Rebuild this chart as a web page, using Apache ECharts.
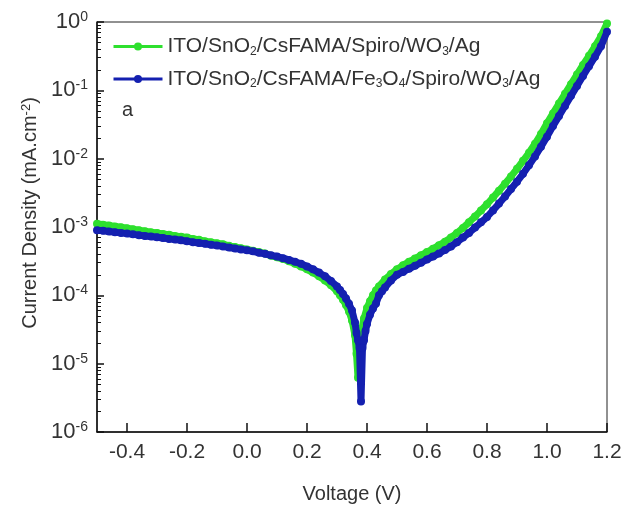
<!DOCTYPE html>
<html><head><meta charset="utf-8">
<script src="https://cdn.jsdelivr.net/npm/echarts@6/dist/echarts.min.js"></script>
<style>html,body{margin:0;padding:0;background:#fff}#c{width:626px;height:514px}</style>
</head><body><div id="c"></div>
<script>
const seriesNames = ['ITO/SnO2/CsFAMA/Spiro/WO3/Ag', 'ITO/SnO2/CsFAMA/Fe3O4/Spiro/WO3/Ag'];
const xTicks = [-0.4, -0.2, 0.0, 0.2, 0.4, 0.6, 0.8, 1.0, 1.2];
const yTicks = [1e-6, 1e-5, 1e-4, 1e-3, 1e-2, 1e-1, 1];

const voltageGreen = [-0.50,-0.48,-0.46,-0.44,-0.42,-0.40,-0.38,-0.36,-0.34,-0.32,-0.30,-0.28,-0.26,-0.24,-0.22,-0.20,-0.18,-0.16,-0.14,-0.12,-0.10,-0.08,-0.06,-0.04,-0.02,0.00,0.02,0.04,0.06,0.08,0.10,0.12,0.14,0.16,0.18,0.20,0.22,0.24,0.26,0.28,0.30,0.31,0.32,0.33,0.34,0.35,0.36,0.365,0.37,0.375,0.38,0.39,0.40,0.41,0.42,0.43,0.44,0.46,0.48,0.50,0.52,0.54,0.56,0.58,0.60,0.62,0.64,0.66,0.68,0.70,0.72,0.74,0.76,0.78,0.80,0.82,0.84,0.86,0.88,0.90,0.92,0.94,0.96,0.98,1.00,1.02,1.04,1.06,1.08,1.10,1.12,1.14,1.16,1.18,1.20];
const currentGreen = [1.12e-3,1.08e-3,1.05e-3,1.02e-3,9.9e-4,9.6e-4,9.3e-4,9.0e-4,8.7e-4,8.4e-4,8.2e-4,7.9e-4,7.7e-4,7.4e-4,7.2e-4,7.0e-4,6.7e-4,6.5e-4,6.2e-4,6.0e-4,5.8e-4,5.6e-4,5.3e-4,5.1e-4,4.9e-4,4.7e-4,4.5e-4,4.3e-4,4.1e-4,3.8e-4,3.6e-4,3.4e-4,3.15e-4,2.9e-4,2.65e-4,2.4e-4,2.15e-4,1.9e-4,1.65e-4,1.4e-4,1.15e-4,1.0e-4,8.6e-5,7.2e-5,5.8e-5,4.3e-5,2.6e-5,1.4e-5,6.2e-6,1.6e-5,2.8e-5,4.6e-5,6.5e-5,8.2e-5,1.0e-4,1.18e-4,1.35e-4,1.7e-4,2.05e-4,2.4e-4,2.75e-4,3.1e-4,3.45e-4,3.85e-4,4.3e-4,4.8e-4,5.4e-4,6.1e-4,7.0e-4,8.2e-4,9.7e-4,1.17e-3,1.42e-3,1.75e-3,2.15e-3,2.7e-3,3.4e-3,4.3e-3,5.5e-3,7.1e-3,9.3e-3,1.22e-2,1.65e-2,2.3e-2,3.3e-2,4.6e-2,6.4e-2,8.9e-2,1.23e-1,1.7e-1,2.35e-1,3.2e-1,4.4e-1,6.2e-1,9.5e-1];

const voltageBlue = [-0.50,-0.48,-0.46,-0.44,-0.42,-0.40,-0.38,-0.36,-0.34,-0.32,-0.30,-0.28,-0.26,-0.24,-0.22,-0.20,-0.18,-0.16,-0.14,-0.12,-0.10,-0.08,-0.06,-0.04,-0.02,0.00,0.02,0.04,0.06,0.08,0.10,0.12,0.14,0.16,0.18,0.20,0.22,0.24,0.26,0.28,0.30,0.31,0.32,0.33,0.34,0.35,0.36,0.365,0.37,0.375,0.38,0.385,0.39,0.395,0.40,0.41,0.42,0.43,0.44,0.45,0.46,0.48,0.50,0.52,0.54,0.56,0.58,0.60,0.62,0.64,0.66,0.68,0.70,0.72,0.74,0.76,0.78,0.80,0.82,0.84,0.86,0.88,0.90,0.92,0.94,0.96,0.98,1.00,1.02,1.04,1.06,1.08,1.10,1.12,1.14,1.16,1.18,1.20];
const currentBlue = [9.0e-4,8.8e-4,8.6e-4,8.4e-4,8.2e-4,8.0e-4,7.8e-4,7.6e-4,7.4e-4,7.25e-4,7.1e-4,6.9e-4,6.7e-4,6.55e-4,6.4e-4,6.2e-4,6.0e-4,5.85e-4,5.7e-4,5.5e-4,5.35e-4,5.2e-4,5.0e-4,4.85e-4,4.7e-4,4.55e-4,4.4e-4,4.2e-4,4.05e-4,3.85e-4,3.7e-4,3.5e-4,3.3e-4,3.1e-4,2.9e-4,2.65e-4,2.4e-4,2.15e-4,1.9e-4,1.62e-4,1.35e-4,1.2e-4,1.05e-4,9.0e-5,7.5e-5,6.0e-5,4.0e-5,2.8e-5,2.2e-5,1.7e-5,2.8e-6,1.7e-5,2.2e-5,3.0e-5,3.8e-5,5.2e-5,6.4e-5,7.6e-5,1.0e-4,1.15e-4,1.3e-4,1.65e-4,2.0e-4,2.2e-4,2.45e-4,2.7e-4,3.0e-4,3.35e-4,3.7e-4,4.1e-4,4.6e-4,5.2e-4,6.0e-4,7.0e-4,8.2e-4,9.8e-4,1.17e-3,1.4e-3,1.75e-3,2.2e-3,2.8e-3,3.6e-3,4.6e-3,6.0e-3,8.0e-3,1.08e-2,1.5e-2,2.1e-2,3.0e-2,4.2e-2,5.9e-2,8.3e-2,1.16e-1,1.62e-1,2.25e-1,3.1e-1,4.4e-1,7.2e-1];

const minorY = [];
for (let d = -6; d < 0; d++) for (let k = 2; k <= 9; k++) minorY.push(k * Math.pow(10, d));

const zip = (a, b) => a.map((v, i) => [v, b[i]]);
const FONT = 'Liberation Sans';
const TXT = '#333';
const green = '#2ee02e', blue = '#1420b0';

const chart = echarts.init(document.getElementById('c'));
chart.setOption({
  animation: false,
  textStyle: { fontFamily: FONT },
  grid: { left: 97, right: 19, top: 22, bottom: 82, show: true, borderColor: '#222', borderWidth: 1, containLabel: false },
  legend: {
    orient: 'vertical', left: 107, top: 31, itemWidth: 49, itemHeight: 10, itemGap: 11, padding: 5,
    lineStyle: { width: 3 },
    textStyle: { fontFamily: FONT, fontSize: 21, color: TXT,
      rich: { s: { fontSize: 12, verticalAlign: 'bottom', padding: [10, 0, 0, 0], color: TXT } } },
    formatter: n => n.replace(/(\d)/g, '{s|$1}')
  },
  xAxis: {
    type: 'value', min: -0.5, max: 1.2,
    name: 'Voltage (V)', nameLocation: 'middle', nameGap: 52,
    nameTextStyle: { fontSize: 20, color: TXT, fontFamily: FONT },
    axisLine: { onZero: false, lineStyle: { color: '#111', width: 1.5 } },
    axisTick: { inside: true, length: 9, customValues: xTicks, lineStyle: { color: '#111', width: 1.5 } },
    axisLabel: { customValues: xTicks, fontSize: 21, color: TXT, margin: 10, formatter: v => v.toFixed(1) },
    splitLine: { show: false }
  },
  yAxis: [{
    type: 'log', logBase: 10, min: 1e-6, max: 1,
    name: 'Current Density (mA.cm{e|-2})', nameLocation: 'middle', nameGap: 52, nameRotate: 90,
    nameTextStyle: { fontSize: 20, color: TXT, fontFamily: FONT, padding: [0, 0, 0, 28],
      rich: { e: { fontSize: 13, verticalAlign: 'top', color: TXT } } },
    axisLine: { onZero: false, lineStyle: { color: '#111', width: 1.5 } },
    axisTick: { inside: true, length: 7, customValues: yTicks, lineStyle: { color: '#111', width: 1.5 } },
    axisLabel: {
      customValues: yTicks, margin: 9, color: TXT,
      formatter: v => '{b|10}{e|' + Math.round(Math.log10(v)) + '}',
      rich: { b: { fontSize: 22, color: TXT, lineHeight: 24 }, e: { fontSize: 14, color: TXT, verticalAlign: 'top' } }
    },
    splitLine: { show: false }
  }, {
    type: 'log', logBase: 10, min: 1e-6, max: 1, position: 'left', offset: 0,
    axisLine: { show: false, onZero: false },
    axisTick: { show: true, inside: true, length: 4, customValues: minorY, lineStyle: { color: '#111', width: 1 } },
    axisLabel: { show: false }, splitLine: { show: false }
  }],
  graphic: [{ type: 'text', left: 122, top: 100, style: { text: 'a', fontSize: 20, fontFamily: FONT, fill: TXT } }],
  series: [
    { name: seriesNames[0], type: 'line', data: zip(voltageGreen, currentGreen), color: green,
      symbol: 'circle', symbolSize: 8, showAllSymbol: true, lineStyle: { width: 7 }, z: 2 },
    { name: seriesNames[1], type: 'line', data: zip(voltageBlue, currentBlue), color: blue,
      symbol: 'circle', symbolSize: 8, showAllSymbol: true, lineStyle: { width: 7 }, z: 3 }
  ]
});
</script></body></html>
